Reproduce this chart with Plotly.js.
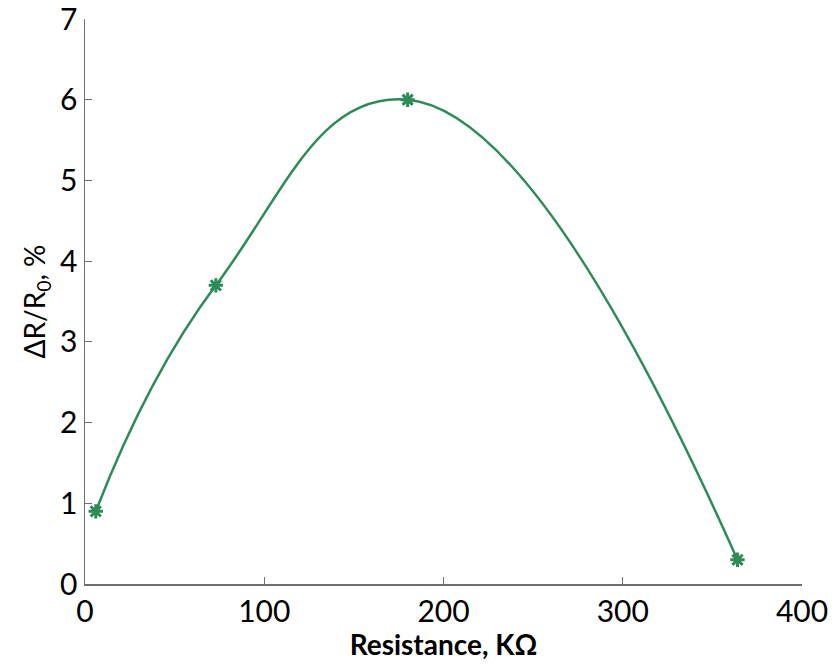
<!DOCTYPE html>
<html>
<head>
<meta charset="utf-8">
<script src="https://cdn.plot.ly/plotly-3.0.1.min.js"></script>
<style>html,body{margin:0;padding:0;background:#fff;}#chart{width:835px;height:664px;}</style>
</head>
<body>
<div id="chart"></div>
<script>
const resistance = [6, 73, 180, 364];
const deltaR = [0.9, 3.7, 6.0, 0.3];
const xTicks = [0, 100, 200, 300, 400];
const yTicks = [0, 1, 2, 3, 4, 5, 6, 7];

const green = '#2e8b57';
const trace = {
  x: resistance,
  y: deltaR,
  mode: 'lines+markers',
  line: {color: green, width: 2.5, shape: 'spline', smoothing: 1.3},
  marker: {symbol: 'asterisk-open', size: 12, color: green, line: {color: green, width: 3}},
  hoverinfo: 'x+y'
};

const axisCommon = {
  showline: true,
  linecolor: '#6e6e6e',
  linewidth: 1.5,
  ticks: 'inside',
  ticklen: 7,
  tickwidth: 1,
  tickcolor: '#6e6e6e',
  showgrid: false,
  zeroline: false,
  ticklabeloverflow: 'allow',
  tickfont: {family: 'Lato, "Open Sans", sans-serif', size: 30, color: '#000'}
};

const layout = {
  width: 835,
  height: 664,
  margin: {l: 85, r: 33, t: 19, b: 80},
  paper_bgcolor: '#fff',
  plot_bgcolor: '#fff',
  showlegend: false,
  xaxis: Object.assign({}, axisCommon, {
    range: [0, 400.001],
    tickvals: xTicks,
    ticktext: xTicks.map(String),
    title: {text: 'Resistance, KΩ', font: {family: 'Lato, "Open Sans", sans-serif', size: 28, color: '#000', weight: 'bold'}, standoff: 2}
  }),
  yaxis: Object.assign({}, axisCommon, {
    range: [0, 7.0001],
    tickvals: yTicks,
    ticktext: yTicks.map(String),
    title: {text: 'ΔR/R<sub>0</sub>, %', font: {family: 'Lato, "Open Sans", sans-serif', size: 28, color: '#000'}, standoff: 6}
  })
};

Plotly.newPlot('chart', [trace], layout, {displayModeBar: false, staticPlot: true});
</script>
</body>
</html>
